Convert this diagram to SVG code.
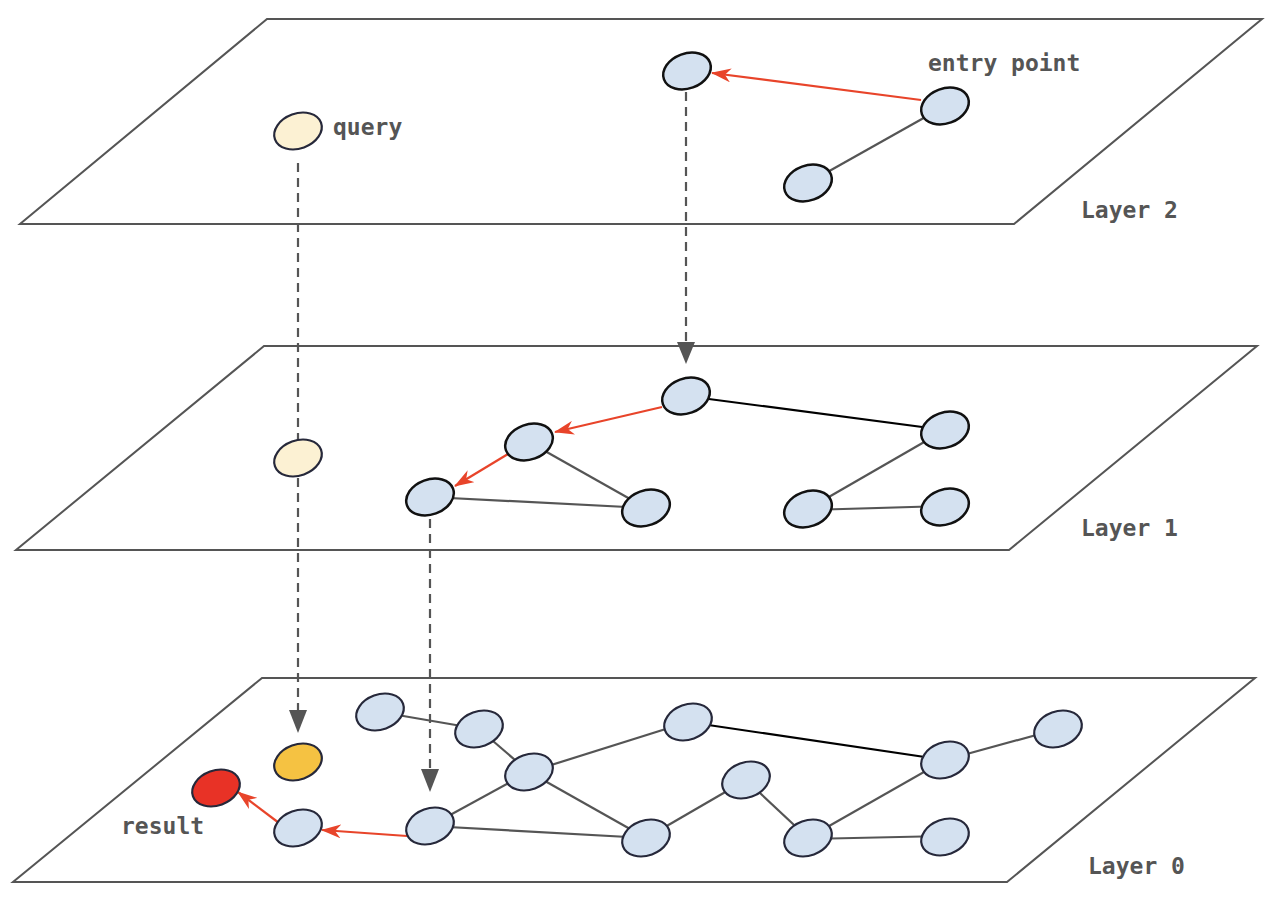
<svg xmlns="http://www.w3.org/2000/svg" width="1282" height="916" viewBox="0 0 1282 916">
<style>
.plane{fill:#fff;stroke:#555;stroke-width:2}
.n{fill:#d4e1f0;stroke:#111;stroke-width:2.5}
.n0{fill:#d4e1f0;stroke:#26283a;stroke-width:2.2}
.q{fill:#fcf1d3;stroke:#26283a;stroke-width:2.2}
.e{stroke:#555;stroke-width:2.2;fill:none}
.b{stroke:#000;stroke-width:2.2;fill:none}
.r{stroke:#e8442a;stroke-width:2.2;fill:none;marker-end:url(#ra)}
.d{stroke:#555;stroke-width:2.2;fill:none;stroke-dasharray:9 6}
.t{font-family:"DejaVu Sans Mono","Liberation Mono",monospace;font-weight:bold;font-size:23px;fill:#555}
</style>
<defs>
<marker id="ra" viewBox="0 0 20 14" refX="19" refY="7" markerWidth="20" markerHeight="14" markerUnits="userSpaceOnUse" orient="auto">
<path d="M0,0 L20,7 L0,14 L6,7 z" fill="#e8442a"/>
</marker>
<ellipse id="el" cx="0" cy="0" rx="24.5" ry="17.5" transform="rotate(-20)"/>
</defs>
<rect width="1282" height="916" fill="#fff"/>
<g id="planes">
<polygon class="plane" points="267,19 1262,19 1014,224 20,224"/>
<polygon class="plane" points="264,346 1257,346 1009,550 16,550"/>
<polygon class="plane" points="262,678 1255,678 1007,882 13,882"/>
</g>
<g id="connectors">
<line class="e" x1="945" y1="106" x2="808" y2="183"/>
<line class="r" x1="921" y1="100" x2="712" y2="73"/>
<line class="d" x1="686" y1="92" x2="686" y2="344"/>
<polygon points="677,342 695,342 686,364" fill="#555"/>
<line class="d" x1="298" y1="163" x2="298" y2="452"/>
<line class="d" x1="298" y1="478" x2="298" y2="712"/>
<polygon points="289,710 307,710 298,733" fill="#555"/>
<line class="b" x1="686" y1="396" x2="945" y2="430"/>
<line class="r" x1="662" y1="407" x2="555" y2="432"/>
<line class="r" x1="508" y1="454" x2="455" y2="486"/>
<line class="e" x1="529" y1="442" x2="646" y2="508"/>
<line class="e" x1="430" y1="497" x2="646" y2="508"/>
<line class="e" x1="945" y1="430" x2="808" y2="509"/>
<line class="e" x1="808" y1="510" x2="945" y2="506"/>
<line class="d" x1="430" y1="519" x2="430" y2="771"/>
<polygon points="421,769 439,769 430,792" fill="#555"/>
<line class="e" x1="380" y1="712" x2="479" y2="729"/>
<line class="e" x1="479" y1="729" x2="529" y2="772"/>
<line class="e" x1="529" y1="772" x2="688" y2="722"/>
<line class="e" x1="529" y1="772" x2="430" y2="826"/>
<line class="e" x1="529" y1="772" x2="646" y2="838"/>
<line class="e" x1="430" y1="826" x2="646" y2="838"/>
<line class="e" x1="646" y1="838" x2="746" y2="780"/>
<line class="e" x1="746" y1="780" x2="808" y2="838"/>
<line class="e" x1="808" y1="838" x2="945" y2="760"/>
<line class="e" x1="808" y1="839" x2="945" y2="836"/>
<line class="e" x1="945" y1="760" x2="1058" y2="729"/>
<line class="b" x1="688" y1="722" x2="945" y2="760"/>
<line class="r" x1="407" y1="836" x2="322" y2="830"/>
<line class="r" x1="279" y1="823" x2="238" y2="792"/>
</g>
<g id="layer2-nodes">
<g id="n2a"><use href="#el" class="n" x="687" y="71"/></g>
<g id="n2entry"><use href="#el" class="n" x="945" y="106"/></g>
<g id="n2c"><use href="#el" class="n" x="808" y="183"/></g>
<g id="n2query"><use href="#el" class="q" x="298" y="131"/></g>
</g>
<g id="layer1-nodes">
<g id="n1d"><use href="#el" class="n" x="686" y="396"/></g>
<g id="n1e"><use href="#el" class="n" x="529" y="442"/></g>
<g id="n1f"><use href="#el" class="n" x="430" y="497"/></g>
<g id="n1g"><use href="#el" class="n" x="646" y="508"/></g>
<g id="n1h"><use href="#el" class="n" x="945" y="430"/></g>
<g id="n1i"><use href="#el" class="n" x="808" y="509"/></g>
<g id="n1j"><use href="#el" class="n" x="945" y="507"/></g>
<g id="n1query"><use href="#el" class="q" x="298" y="458"/></g>
</g>
<g id="layer0-nodes">
<g id="n0a"><use href="#el" class="n0" x="380" y="712"/></g>
<g id="n0b"><use href="#el" class="n0" x="479" y="729"/></g>
<g id="n0c"><use href="#el" class="n0" x="529" y="772"/></g>
<g id="n0d"><use href="#el" class="n0" x="430" y="826"/></g>
<g id="n0e"><use href="#el" class="n0" x="646" y="838"/></g>
<g id="n0f"><use href="#el" class="n0" x="688" y="722"/></g>
<g id="n0g"><use href="#el" class="n0" x="746" y="780"/></g>
<g id="n0h"><use href="#el" class="n0" x="808" y="838"/></g>
<g id="n0i"><use href="#el" class="n0" x="945" y="760"/></g>
<g id="n0j"><use href="#el" class="n0" x="945" y="837"/></g>
<g id="n0k"><use href="#el" class="n0" x="1058" y="729"/></g>
<g id="n0l"><use href="#el" class="n0" x="298" y="828"/></g>
<g id="n0query"><use href="#el" class="n0" style="fill:#f5c242" x="298" y="762"/></g>
<g id="n0result"><use href="#el" class="n0" style="fill:#e83226" x="216" y="788"/></g>
</g>
<g id="labels">
<text class="t" x="928" y="71">entry point</text>
<text class="t" x="333" y="135">query</text>
<text class="t" x="121" y="834">result</text>
<text class="t" x="1081" y="218">Layer 2</text>
<text class="t" x="1081" y="536">Layer 1</text>
<text class="t" x="1088" y="874">Layer 0</text>
</g>
</svg>
